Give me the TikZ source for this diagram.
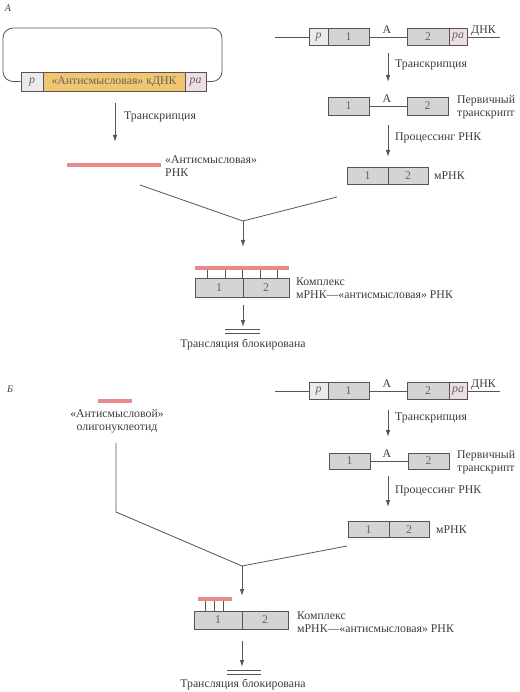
\documentclass[tikz,border=0pt]{standalone}
\usepackage{fontspec}
\setmainfont{Liberation Serif}
\usetikzlibrary{arrows.meta}
\definecolor{ink}{HTML}{3C3C3C}
\definecolor{edge}{HTML}{555555}
\definecolor{boxfill}{HTML}{D4D4D4}
\definecolor{pfill}{HTML}{ECE8EC}
\definecolor{pafill}{HTML}{EFDDE4}
\definecolor{yel}{HTML}{F2C670}
\definecolor{pink}{HTML}{E88A8A}
\begin{document}
\begin{tikzpicture}[x=1pt,y=-1pt,
  every node/.style={text=ink,font=\fontsize{11.8}{13}\selectfont},
  seg/.style={draw=edge,line width=0.8pt,fill=boxfill,minimum height=17pt,inner sep=0pt,text=ink!80},
  lab/.style={anchor=west,align=left,inner sep=0pt},
  arr/.style={draw=edge,line width=0.9pt,-{Latex[length=7pt,width=4.5pt]}},
  ln/.style={draw=edge,line width=0.8pt},
  bar/.style={draw=pink,line width=4pt},
  tick/.style={draw=edge,line width=0.5pt}]
\useasboundingbox (0,0) rectangle (519,692);

% ================= Panel A =================
\node[inner sep=0pt,font=\fontsize{10}{12}\selectfont\itshape] (labA) at (8,8) {А};

% plasmid
\node[seg,fill=pfill,minimum width=22pt,minimum height=19pt] (pP) at (32,81.5) {\itshape p};
\node[seg,fill=yel,minimum width=142pt,minimum height=19pt] (yP) at (114,81.5) {«Антисмысловая» кДНК};
\node[seg,fill=pafill,minimum width=21pt,minimum height=19pt] (paP) at (195.5,81.5) {\itshape pa};
\draw[ln,rounded corners=10pt] (pP.west) -- (3,81.5) -- (3,28) -- (222,28) -- (222,81.5) -- (paP.east);

\coordinate (a1s) at (115,103);
\coordinate (a1e) at (115,142);
\draw[arr] (a1s) -- (a1e);
\node[lab] (trL) at (124,117) {Транскрипция};

\coordinate (rnaL) at (67,165);
\coordinate (rnaR) at (161,165);
\draw[bar] (rnaL) -- (rnaR);
\node[lab] (rnaLab) at (165,166) {«Антисмысловая»\\РНК};

% DNA right
\coordinate (dLA) at (275,37);
\coordinate (dRA) at (500,37);
\node[seg,fill=pfill,minimum width=19pt] (pA) at (318.5,37) {\itshape p};
\node[seg,minimum width=41pt] (b1A) at (348.5,37) {1};
\node[seg,minimum width=42pt] (b2A) at (428,37) {2};
\node[seg,fill=pafill,minimum width=18pt] (paA) at (458,37) {\itshape pa};
\draw[ln] (dLA) -- (pA.west);
\draw[ln] (b1A.east) -- (b2A.west);
\draw[ln] (paA.east) -- (dRA);
\node[inner sep=0pt] (AA) at (387,30) {А};
\node[anchor=south west,inner sep=0pt] (dnkA) at (471,36) {ДНК};

\coordinate (r1sA) at (388,53);
\coordinate (r1eA) at (388,82);
\draw[arr] (r1sA) -- (r1eA);
\node[lab] (trA) at (395,65) {Транскрипция};

\node[seg,minimum width=41pt,minimum height=18pt] (t1A) at (348.5,106) {1};
\node[seg,minimum width=41pt,minimum height=18pt] (t2A) at (427.5,106) {2};
\draw[ln] (t1A.east) -- (t2A.west);
\node[inner sep=0pt] (tAA) at (387,99) {А};
\node[lab] (ptA) at (457,107) {Первичный\\транскрипт};

\coordinate (r2sA) at (388,125);
\coordinate (r2eA) at (388,157);
\draw[arr] (r2sA) -- (r2eA);
\node[lab] (prA) at (395,138) {Процессинг РНК};

\node[seg,minimum width=41pt] (m1A) at (367.5,175.5) {1};
\node[seg,minimum width=40pt] (m2A) at (408,175.5) {2};
\node[lab] (mlA) at (434,175.5) {мРНК};

% convergence
\coordinate (cLA) at (140,185);
\coordinate (cMA) at (243,221);
\coordinate (cRA) at (337,197);
\coordinate (cEA) at (243,247);
\draw[ln] (cLA) -- (cMA) -- (cRA);
\draw[arr] (cMA) -- (cEA);

% complex A
\node[seg,minimum width=48pt,minimum height=19pt] (c1A) at (219,287.5) {1};
\node[seg,minimum width=46pt,minimum height=19pt] (c2A) at (266,287.5) {2};
\foreach \xx in {207,225,242,260,277} \draw[tick] (\xx,270) -- (\xx,278);
\coordinate (pbLA) at (195,268);
\coordinate (pbRA) at (289,268);
\draw[bar] (pbLA) -- (pbRA);
\node[lab] (kxA) at (296,288) {Комплекс\\мРНК—«антисмысловая» РНК};

\coordinate (bsA) at (243,305);
\coordinate (beA) at (243,327);
\draw[arr] (bsA) -- (beA);
\draw[ln] (225,329) -- (260,329);
\draw[ln] (225,333) -- (260,333);
\node[inner sep=0pt] (blA) at (243,345) {Трансляция блокирована};

% ================= Panel B =================
\node[inner sep=0pt,font=\fontsize{10}{12}\selectfont\itshape] (labB) at (10,389) {Б};

\coordinate (olL) at (98,401);
\coordinate (olR) at (132,401);
\draw[bar] (olL) -- (olR);
\node[inner sep=0pt,align=center] (olLab) at (117,421) {«Антисмысловой»\\олигонуклеотид};

\coordinate (vsB) at (116,443);
\coordinate (vbB) at (116,512);
\coordinate (cMB) at (242,566);
\coordinate (cRB) at (347,546);
\coordinate (cEB) at (242,596);
\draw[ln] (vsB) -- (vbB) -- (cMB) -- (cRB);
\draw[arr] (cMB) -- (cEB);

\coordinate (dLB) at (275,391);
\coordinate (dRB) at (500,391);
\node[seg,fill=pfill,minimum width=19pt] (pB) at (318.5,391) {\itshape p};
\node[seg,minimum width=41pt] (b1B) at (348.5,391) {1};
\node[seg,minimum width=42pt] (b2B) at (428,391) {2};
\node[seg,fill=pafill,minimum width=18pt] (paB) at (458,391) {\itshape pa};
\draw[ln] (dLB) -- (pB.west);
\draw[ln] (b1B.east) -- (b2B.west);
\draw[ln] (paB.east) -- (dRB);
\node[inner sep=0pt] (AB) at (387,384) {А};
\node[anchor=south west,inner sep=0pt] (dnkB) at (471,390) {ДНК};

\coordinate (r1sB) at (388,410);
\coordinate (r1eB) at (388,437);
\draw[arr] (r1sB) -- (r1eB);
\node[lab] (trB) at (395,418) {Транскрипция};

\node[seg,minimum width=41pt,minimum height=16pt] (t1B) at (349.5,461) {1};
\node[seg,minimum width=41pt,minimum height=16pt] (t2B) at (428.5,461) {2};
\draw[ln] (t1B.east) -- (t2B.west);
\node[inner sep=0pt] (tAB) at (387,454) {А};
\node[lab] (ptB) at (457,462) {Первичный\\транскрипт};

\coordinate (r2sB) at (388,476);
\coordinate (r2eB) at (388,507);
\draw[arr] (r2sB) -- (r2eB);
\node[lab] (prB) at (395,491) {Процессинг РНК};

\node[seg,minimum width=41pt,minimum height=16pt] (m1B) at (368.5,529.5) {1};
\node[seg,minimum width=40pt,minimum height=16pt] (m2B) at (409,529.5) {2};
\node[lab] (mlB) at (436,529.5) {мРНК};

\node[seg,minimum width=48pt,minimum height=18pt] (c1B) at (218,620) {1};
\node[seg,minimum width=46pt,minimum height=18pt] (c2B) at (265,620) {2};
\foreach \xx in {205,214,223} \draw[tick] (\xx,601) -- (\xx,611);
\coordinate (pbLB) at (198,599);
\coordinate (pbRB) at (232,599);
\draw[bar] (pbLB) -- (pbRB);
\node[lab] (kxB) at (297,622) {Комплекс\\мРНК—«антисмысловая» РНК};

\coordinate (bsB) at (242,641);
\coordinate (beB) at (242,667);
\draw[arr] (bsB) -- (beB);
\draw[ln] (227,670) -- (261,670);
\draw[ln] (227,674) -- (261,674);
\node[inner sep=0pt] (blB) at (243,685) {Трансляция блокирована};
\end{tikzpicture}
\end{document}
